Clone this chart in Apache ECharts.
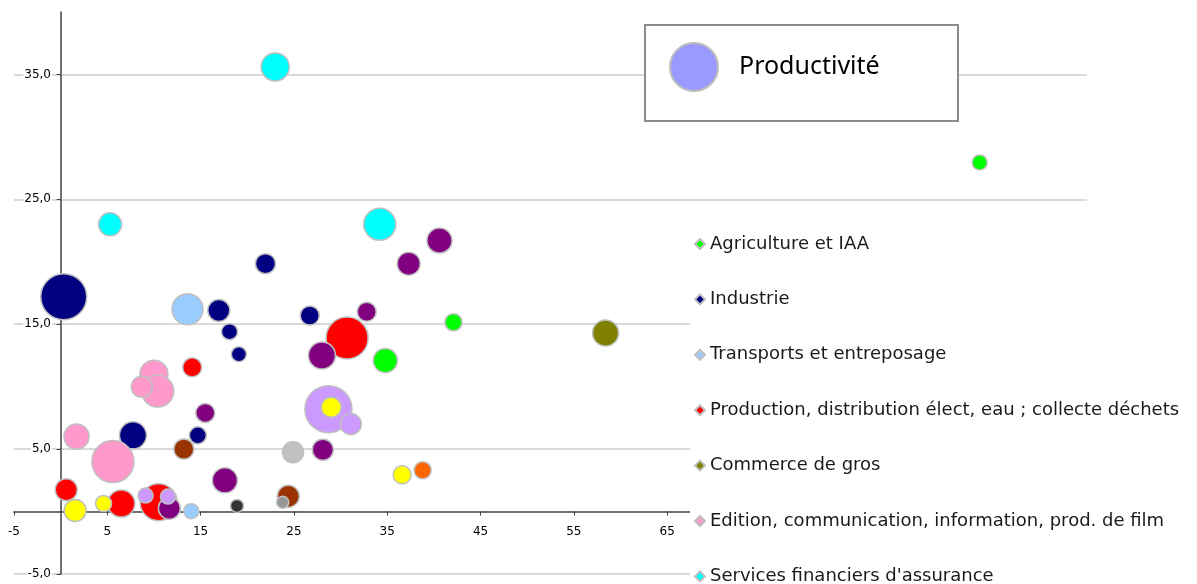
<!DOCTYPE html>
<html>
<head>
<meta charset="utf-8">
<script src="https://cdn.jsdelivr.net/npm/echarts@6/dist/echarts.min.js"></script>
<style>
html,body{margin:0;padding:0;background:#fff;}
#chart{width:1197px;height:584px;}
</style>
</head>
<body>
<div id="chart"></div>
<script>
// ---- DATA: [x, y, productivité] per sector ----
const seriesNames = [
  "Agriculture et IAA",
  "Industrie",
  "Transports et entreposage",
  "Production, distribution élect, eau ; collecte déchets",
  "Commerce de gros",
  "Edition, communication, information, prod. de film",
  "Services financiers d'assurance",
  "Commerce de détail",
  "Activités scientifiques et techniques",
  "Hébergement et restauration",
  "Construction",
  "Activités immobilières",
  "Services administratifs et de soutien",
  "Autres activités de services",
  "Réparation automobile"
];
const agriculture = [[98.5, 27.95, 10.2], [42.1, 15.15, 13.1], [34.8, 12.1, 26.1]];
const industrie = [[0.33, 17.2, 95.8], [16.95, 16.1, 21.9], [18.1, 14.4, 11.6], [19.1, 12.6, 10.2],
  [26.7, 15.7, 16.3], [7.75, 6.1, 33.0], [14.7, 6.1, 13.1], [21.95, 19.85, 18.1]];
const transports = [[13.6, 16.2, 43.5], [14.0, 0.03, 10.2]];
const production = [[30.7, 13.9, 79.9], [14.1, 11.55, 16.3], [0.6, 1.75, 21.9], [6.5, 0.64, 33.0], [10.5, 0.75, 62.0]];
const commerceGros = [[58.4, 14.3, 30.6]];
const edition = [[10.0, 11.0, 35.5], [10.4, 9.65, 46.4], [8.7, 10.0, 20.0], [1.7, 6.0, 28.3], [5.6, 4.0, 79.9]];
const services = [[23.0, 35.6, 35.5], [5.3, 23.0, 23.9], [34.2, 23.0, 46.4]];
const commerceDetail = [[32.8, 16.0, 16.3], [28.0, 12.5, 33.0], [15.5, 7.9, 16.3], [28.1, 4.95, 20.0],
  [17.6, 2.5, 28.3], [11.65, 0.27, 21.9], [40.6, 21.7, 28.3], [37.3, 19.85, 23.9]];
const scientifiques = [[28.7, 8.2, 100.0], [31.1, 7.0, 20.0], [9.1, 1.28, 10.2], [11.5, 1.2, 10.2]];
const hebergement = [[29.0, 8.35, 18.1], [36.6, 2.94, 14.7], [1.55, 0.08, 21.9], [4.6, 0.64, 11.6]];
const construction = [[13.2, 5.0, 18.1], [24.4, 1.23, 21.9]];
const immobilier = [[24.9, 4.75, 20.0]];
const administratifs = [[18.9, 0.45, 7.7]];
const autres = [[23.8, 0.75, 6.5]];
const reparation = [[38.8, 3.3, 13.1]];
const xTicks = { min: -5, max: 110, interval: 10 };
const yTicks = { min: -5, max: 40, interval: 10 };
const sizeLegendName = "Productivité";

const seriesData = [agriculture, industrie, transports, production, commerceGros, edition, services,
  commerceDetail, scientifiques, hebergement, construction, immobilier, administratifs, autres, reparation];
// ---- STYLES ----
const colors = ["#00ff00", "#000080", "#99ccff", "#ff0000", "#808000", "#ff99cc", "#00ffff",
  "#800080", "#cc99ff", "#ffff00", "#993300", "#c0c0c0", "#333333", "#969696", "#ff6600"];
const sizeScale = 4.7;

const chart = echarts.init(document.getElementById('chart'), null, { renderer: 'canvas' });

const series = seriesNames.map((name, i) => ({
  name: name,
  type: 'scatter',
  data: seriesData[i],
  symbol: 'circle',
  symbolSize: v => sizeScale * Math.sqrt(v[2]),
  itemStyle: { color: colors[i], borderColor: '#bfbfbf', borderWidth: 1.5, opacity: 1 },
  emphasis: { disabled: true },
  z: 2 + i * 0.01
}));
series.push({
  name: sizeLegendName,
  type: 'scatter',
  data: [],
  itemStyle: { color: '#9999ff', borderColor: '#bdbdbd', borderWidth: 2 }
});

const option = {
  animation: false,
  backgroundColor: '#fff',
  grid: { left: 14, right: 110, top: 12, bottom: 10, containLabel: false, outerBoundsMode: 'none' },
  xAxis: {
    type: 'value', min: xTicks.min, max: xTicks.max, interval: xTicks.interval,
    axisLine: { onZero: true, lineStyle: { color: '#404040', width: 1.5 } },
    axisTick: { show: true, length: 4, lineStyle: { color: '#404040' } },
    axisLabel: { margin: -48, color: '#000', fontSize: 12, fontFamily: 'DejaVu Sans', showMaxLabel: false },
    splitLine: { show: false }
  },
  yAxis: {
    type: 'value', min: yTicks.min, max: yTicks.max, interval: yTicks.interval,
    axisLine: { onZero: true, lineStyle: { color: '#404040', width: 1.5 } },
    axisTick: { show: true, length: 4, lineStyle: { color: '#404040' } },
    axisLabel: {
      margin: -38, color: '#000', fontSize: 12, fontFamily: 'DejaVu Sans', showMaxLabel: false,
      backgroundColor: '#fff', padding: [1, 1, 0, 1],
      formatter: v => v.toFixed(1).replace('.', ',')
    },
    splitLine: { show: true, showMaxLine: false, lineStyle: { color: '#d9d9d9', width: 2 } }
  },
  legend: [
    {
      type: 'plain',
      data: seriesNames,
      orient: 'vertical',
      left: 690, top: 224,
      height: 1200,
      padding: [10, 20, 300, 4],
      backgroundColor: '#fff',
      icon: 'diamond',
      itemWidth: 10, itemHeight: 10,
      itemGap: 35.4,
      selectedMode: false,
      textStyle: { fontSize: 18, lineHeight: 20, fontFamily: 'DejaVu Sans', color: '#1a1a1a' },
      z: 6
    },
    {
      type: 'plain',
      data: [{ name: sizeLegendName, itemStyle: { color: '#9999ff', borderColor: '#bdbdbd', borderWidth: 2, opacity: 1 } }],
      orient: 'vertical',
      left: 669, top: 42,
      padding: 0,
      icon: 'circle',
      itemWidth: 48, itemHeight: 48,
      selectedMode: false,
      textStyle: { fontSize: 25, fontFamily: 'Noto Sans', color: '#000', padding: [0, 0, 8, 16] },
      z: 8
    }
  ],
  graphic: [
    {
      type: 'rect', z: 7,
      shape: { x: 645, y: 25, width: 313, height: 96 },
      style: { fill: '#fff', stroke: '#8c8c8c', lineWidth: 2 }
    }
  ],
  series: series
};
chart.setOption(option);
</script>
</body>
</html>
